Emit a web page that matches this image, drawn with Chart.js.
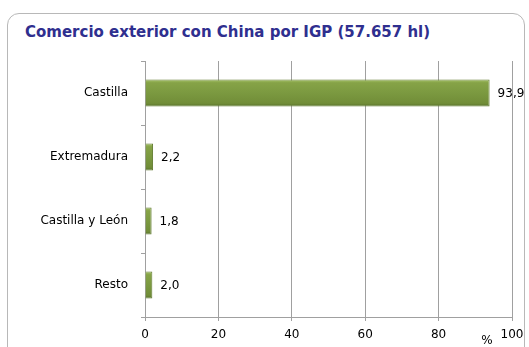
<!DOCTYPE html>
<html>
<head>
<meta charset="utf-8">
<script src="https://cdn.jsdelivr.net/npm/chart.js@4/dist/chart.umd.min.js"></script>
<style>
  html, body { margin: 0; padding: 0; background: #fff; }
  #wrap { position: relative; width: 529px; height: 347px; overflow: hidden; }
  #frame { position: absolute; left: 7px; top: 13px; width: 518px; height: 400px;
           border: 1px solid #b8b8b8; border-radius: 12px; box-sizing: border-box; }
  #title { position: absolute; left: 25px; top: 23px; font-family: "DejaVu Sans", Verdana, sans-serif;
           font-weight: bold; font-size: 15px; color: #2f2f8f; white-space: nowrap; }
  canvas { position: absolute; left: 0; top: 0; }
</style>
</head>
<body>
<div id="wrap">
  <div id="frame"></div>
  <div id="title">Comercio exterior con China por IGP (57.657 hl)</div>
  <canvas id="c" width="529" height="347"></canvas>
</div>
<script>
const regions = ["Castilla", "Extremadura", "Castilla y León", "Resto"];
const shares = [93.9, 2.2, 1.8, 2.0];
const xTicks = [0, 20, 40, 60, 80, 100];

const labelFont = '"DejaVu Sans", Verdana, sans-serif';

// Writes each bar's value (with a decimal comma) just past its end, and the % unit
const valueLabels = {
  id: 'valueLabels',
  afterDatasetsDraw(chart) {
    const ctx = chart.ctx;
    const meta = chart.getDatasetMeta(0);
    ctx.save();
    ctx.font = '12px ' + labelFont;
    ctx.fillStyle = '#000';
    ctx.textBaseline = 'middle';
    ctx.textAlign = 'left';
    meta.data.forEach((bar, i) => {
      const txt = shares[i].toFixed(1).replace('.', ',');
      ctx.fillText(txt, bar.x + 8, bar.y + 1);
    });
    const xs = chart.scales.x;
    ctx.textAlign = 'center';
    ctx.fillText('%', xs.getPixelForValue(93.2), 341);
    ctx.restore();
  }
};

// Vertical shading across each bar: lighter top edge, darker underside
function barFill(context) {
  const chart = context.chart;
  const ys = chart.scales.y;
  if (!ys || ys.height === undefined) return '#7a9840';
  const cy = ys.getPixelForValue(context.dataIndex);
  const half = 13.5;
  const g = chart.ctx.createLinearGradient(0, cy - half, 0, cy + half);
  g.addColorStop(0, '#a8c46b');
  g.addColorStop(0.12, '#86a347');
  g.addColorStop(0.5, '#7b9940');
  g.addColorStop(0.88, '#718d38');
  g.addColorStop(1, '#58722b');
  return g;
}

new Chart(document.getElementById('c'), {
  type: 'bar',
  data: {
    labels: regions,
    datasets: [{
      data: shares,
      backgroundColor: barFill,
      borderColor: '#5f7a2d',
      borderWidth: 1,
      categoryPercentage: 1,
      barPercentage: 0.42
    }]
  },
  options: {
    indexAxis: 'y',
    responsive: false,
    animation: false,
    devicePixelRatio: 1,
    layout: { padding: { top: 61, left: 0, right: 17, bottom: 0 } },
    plugins: { legend: { display: false }, tooltip: { enabled: false } },
    scales: {
      x: {
        min: 0, max: 100,
        afterBuildTicks(scale) { scale.ticks = xTicks.map(v => ({ value: v })); },
        afterFit(scale) { scale.height = 30; scale.paddingLeft = 0; scale.paddingRight = 0; },
        grid: { color: '#a0a0a0', lineWidth: 1, tickLength: 4, drawOnChartArea: true },
        border: { color: '#a0a0a0' },
        ticks: { color: '#000', font: { family: labelFont, size: 12 }, padding: 7, maxRotation: 0 }
      },
      y: {
        afterFit(scale) { scale.width = 145; scale.paddingTop = 0; scale.paddingBottom = 0; },
        grid: { offset: true, drawOnChartArea: false, tickLength: 4, color: '#a0a0a0' },
        border: { color: '#a0a0a0' },
        ticks: { color: '#000', font: { family: labelFont, size: 12 }, padding: 13 }
      }
    }
  },
  plugins: [valueLabels]
});
</script>
</body>
</html>
